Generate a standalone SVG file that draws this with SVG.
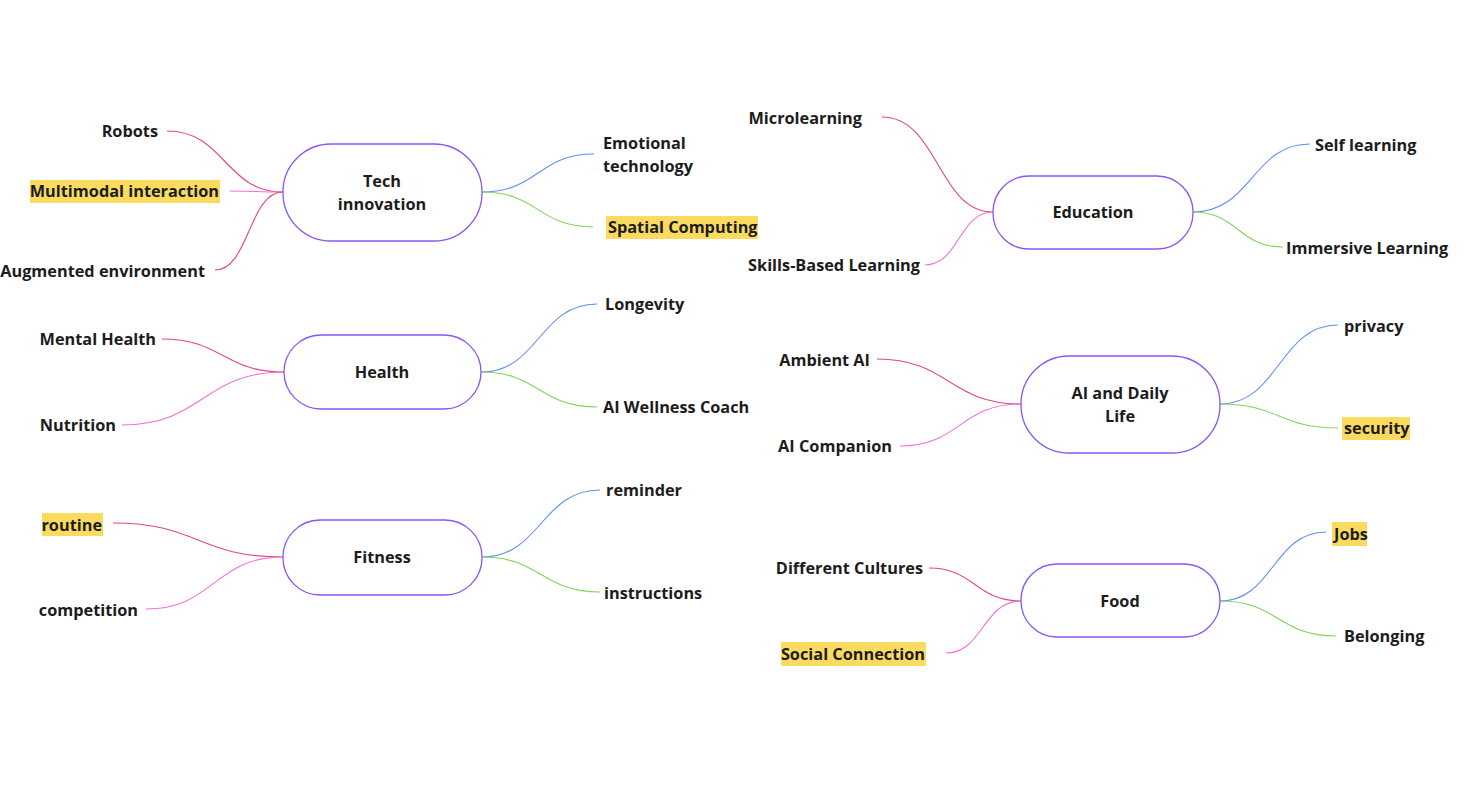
<svg xmlns="http://www.w3.org/2000/svg" width="1467" height="787" viewBox="0 0 1467 787">
<style>
text{font-family:"Open Sans","Noto Sans","Liberation Sans",sans-serif;font-size:16.3px;font-weight:700;fill:#1c1c1c}
.n{fill:#fff;stroke:#8a55f5;stroke-width:1.3}
.c text{text-anchor:middle}
.e{text-anchor:end}
.hl{fill:#fadb5f}
path{fill:none;stroke-width:1.1}
.r{stroke:#e8467d}
.m{stroke:#f071d8}
.b{stroke:#5f8ff5}
.g{stroke:#80d45e}
</style>
<rect width="1467" height="787" fill="#fff"/>
<g id="connectors">
<path class="r" d="M167,131 C225,131 225,192 283,192"/>
<path class="m" d="M230,191 C256,191 256,192 283,192"/>
<path class="r" d="M215,270 C249,270 249,192 283,192"/>
<path class="b" d="M482,192 C538,192 538,154 594,154"/>
<path class="g" d="M482,192 C538,192 538,227 593,227"/>
<path class="r" d="M882,117 C938,117 938,212 993,212"/>
<path class="m" d="M925,265 C959,265 959,212 993,212"/>
<path class="b" d="M1193,212 C1252,212 1252,144 1310,144"/>
<path class="g" d="M1193,212 C1238,212 1238,247 1283,247"/>
<path class="r" d="M162,339 C223,339 223,372 284,372"/>
<path class="m" d="M122,425 C203,425 203,372 284,372"/>
<path class="b" d="M481,372 C539,372 539,304 597,304"/>
<path class="g" d="M481,372 C539,372 539,407 597,407"/>
<path class="r" d="M877,359 C949,359 949,404 1021,404"/>
<path class="m" d="M900,446 C960,446 960,404 1021,404"/>
<path class="b" d="M1220,404 C1279,404 1279,325 1338,325"/>
<path class="g" d="M1220,404 C1279,404 1279,428 1338,428"/>
<path class="r" d="M113,523 C198,523 198,557 283,557"/>
<path class="m" d="M146,609 C214,609 214,557 283,557"/>
<path class="b" d="M482,557 C541,557 541,490 600,490"/>
<path class="g" d="M482,557 C541,557 541,592 600,592"/>
<path class="r" d="M929,568 C975,568 975,601 1021,601"/>
<path class="m" d="M946,653 C983,653 983,601 1021,601"/>
<path class="b" d="M1220,601 C1273,601 1273,532 1326,532"/>
<path class="g" d="M1220,601 C1278,601 1278,636 1336,636"/>
</g>
<g id="node-tech" class="c">
<rect class="n" x="283" y="144" width="199" height="97" rx="48"/>
<text x="382" y="187">Tech</text>
<text x="382" y="210">innovation</text>
</g>
<g id="node-health" class="c">
<rect class="n" x="284" y="335" width="197" height="74" rx="37"/>
<text x="382" y="378">Health</text>
</g>
<g id="node-fitness" class="c">
<rect class="n" x="283" y="520" width="199" height="75" rx="37"/>
<text x="382" y="563">Fitness</text>
</g>
<g id="node-education" class="c">
<rect class="n" x="993" y="176" width="200" height="73" rx="36"/>
<text x="1093" y="218">Education</text>
</g>
<g id="node-ai" class="c">
<rect class="n" x="1021" y="356" width="199" height="97" rx="48"/>
<text x="1120" y="399">AI and Daily</text>
<text x="1120" y="422">Life</text>
</g>
<g id="node-food" class="c">
<rect class="n" x="1021" y="564" width="199" height="73" rx="36"/>
<text x="1120" y="607">Food</text>
</g>
<g id="leaf-robots"><text class="e" x="158" y="137">Robots</text></g>
<g id="leaf-multimodal"><rect class="hl" x="30" y="180" width="190" height="23"/><text class="e" x="219" y="197">Multimodal interaction</text></g>
<g id="leaf-augmented"><text class="e" x="205" y="277">Augmented environment</text></g>
<g id="leaf-emotional"><text x="603" y="149">Emotional</text><text x="603" y="172">technology</text></g>
<g id="leaf-spatial"><rect class="hl" x="606" y="216" width="152" height="23"/><text x="608" y="233">Spatial Computing</text></g>
<g id="leaf-micro"><text class="e" x="862" y="124">Microlearning</text></g>
<g id="leaf-skills"><text class="e" x="920" y="271">Skills-Based Learning</text></g>
<g id="leaf-self"><text x="1315" y="151">Self learning</text></g>
<g id="leaf-immersive"><text x="1286" y="254">Immersive Learning</text></g>
<g id="leaf-mental"><text class="e" x="156" y="345">Mental Health</text></g>
<g id="leaf-nutrition"><text class="e" x="116" y="431">Nutrition</text></g>
<g id="leaf-longevity"><text x="605" y="310">Longevity</text></g>
<g id="leaf-wellness"><text x="603" y="413">AI Wellness Coach</text></g>
<g id="leaf-ambient"><text class="e" x="870" y="366">Ambient AI</text></g>
<g id="leaf-companion"><text class="e" x="892" y="452">AI Companion</text></g>
<g id="leaf-privacy"><text x="1344" y="332">privacy</text></g>
<g id="leaf-security"><rect class="hl" x="1342" y="417" width="68" height="23"/><text x="1344" y="434">security</text></g>
<g id="leaf-routine"><rect class="hl" x="42" y="513" width="61" height="23"/><text class="e" x="102" y="531">routine</text></g>
<g id="leaf-competition"><text class="e" x="138" y="616">competition</text></g>
<g id="leaf-reminder"><text x="606" y="496">reminder</text></g>
<g id="leaf-instructions"><text x="604" y="599">instructions</text></g>
<g id="leaf-cultures"><text class="e" x="923" y="574">Different Cultures</text></g>
<g id="leaf-social"><rect class="hl" x="781" y="642" width="145" height="24"/><text class="e" x="925" y="660">Social Connection</text></g>
<g id="leaf-jobs"><rect class="hl" x="1332" y="522" width="35" height="24"/><text x="1334" y="540">Jobs</text></g>
<g id="leaf-belonging"><text x="1344" y="642">Belonging</text></g>
</svg>
